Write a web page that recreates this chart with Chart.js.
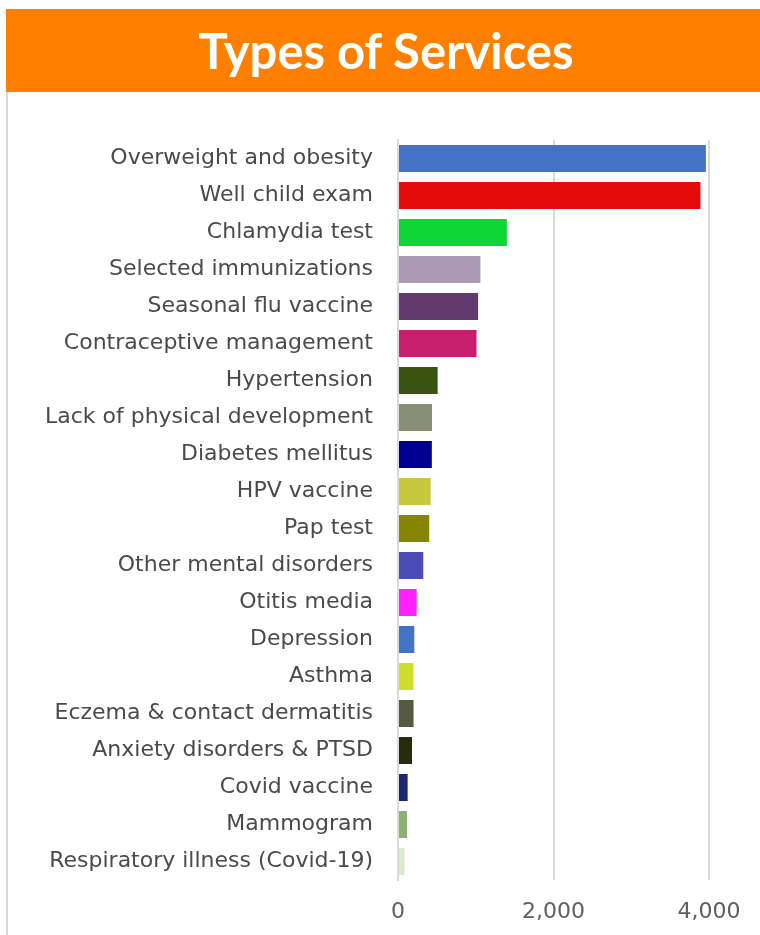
<!DOCTYPE html>
<html>
<head>
<meta charset="utf-8">
<script src="https://cdn.jsdelivr.net/npm/chart.js@4"></script>
<style>
  html, body { margin: 0; padding: 0; background: #fff; }
  body { width: 760px; height: 935px; position: relative; overflow: hidden; }
  #header {
    position: absolute; left: 6px; top: 9px; width: 754px; height: 83px;
    background: #ff8000; color: #fff;
    font-family: Lato, "Open Sans", sans-serif; font-weight: bold; font-size: 49px;
    line-height: 82px; text-align: center; text-indent: 6px;
  }
  #frame { position: absolute; left: 6px; top: 92px; width: 2px; height: 843px; background: #d9d9d9; }
  #wrap { position: absolute; left: 8px; top: 92px; width: 752px; height: 843px; }
</style>
</head>
<body>
<div id="header">Types of Services</div>
<div id="frame"></div>
<div id="wrap"><canvas id="services"></canvas></div>
<script>
// categories, top to bottom
var services = [
  'Overweight and obesity', 'Well child exam', 'Chlamydia test', 'Selected immunizations',
  'Seasonal flu vaccine', 'Contraceptive management', 'Hypertension', 'Lack of physical development',
  'Diabetes mellitus', 'HPV vaccine', 'Pap test', 'Other mental disorders', 'Otitis media',
  'Depression', 'Asthma', 'Eczema & contact dermatitis', 'Anxiety disorders & PTSD',
  'Covid vaccine', 'Mammogram', 'Respiratory illness (Covid-19)'
];
var counts = [3960, 3890, 1400, 1060, 1030, 1010, 510, 437, 435, 420, 402, 325, 240, 210, 198, 200, 180, 124, 116, 85];
var barColors = [
  '#4472c4', '#e50b0b', '#0ed634', '#ac9ab4', '#633a6e', '#c6206d', '#3a5311', '#868e76',
  '#000090', '#c8c840', '#868600', '#4b4bb5', '#ff22ff', '#4472c4', '#cfde2c', '#555a40',
  '#262d0a', '#1a2870', '#8db173', '#d8ebcd'
];
var xTicks = [0, 2000, 4000];

var labelFont = '"DejaVu Sans", Lato, sans-serif';

new Chart(document.getElementById('services'), {
  type: 'bar',
  data: {
    labels: services,
    datasets: [{
      data: counts,
      backgroundColor: barColors,
      categoryPercentage: 1,
      barPercentage: 0.73
    }]
  },
  options: {
    indexAxis: 'y',
    responsive: true,
    maintainAspectRatio: false,
    animation: false,
    layout: { padding: { top: 48, right: 51, left: 0, bottom: 0 } },
    plugins: { legend: { display: false }, tooltip: { enabled: false } },
    scales: {
      x: {
        min: 0, max: 4000,
        afterFit: function (s) { s.height = 55; },
        afterBuildTicks: function (s) { s.ticks = xTicks.map(function (v) { return { value: v }; }); },
        grid: { color: '#d9d9d9', lineWidth: 2, drawTicks: false },
        border: { display: false },
        ticks: {
          padding: 19,
          color: '#5f5f5f',
          font: { family: labelFont, size: 22 },
          callback: function (v) { return v.toLocaleString('en-US'); }
        }
      },
      y: {
        afterFit: function (s) { s.width = 390; },
        grid: { display: false, drawTicks: false },
        border: { display: true, color: '#d9d9d9', width: 2 },
        ticks: {
          padding: 25,
          autoSkip: false,
          color: '#4a4a4a',
          font: { family: labelFont, size: 22 }
        }
      }
    }
  }
});
</script>
</body>
</html>
